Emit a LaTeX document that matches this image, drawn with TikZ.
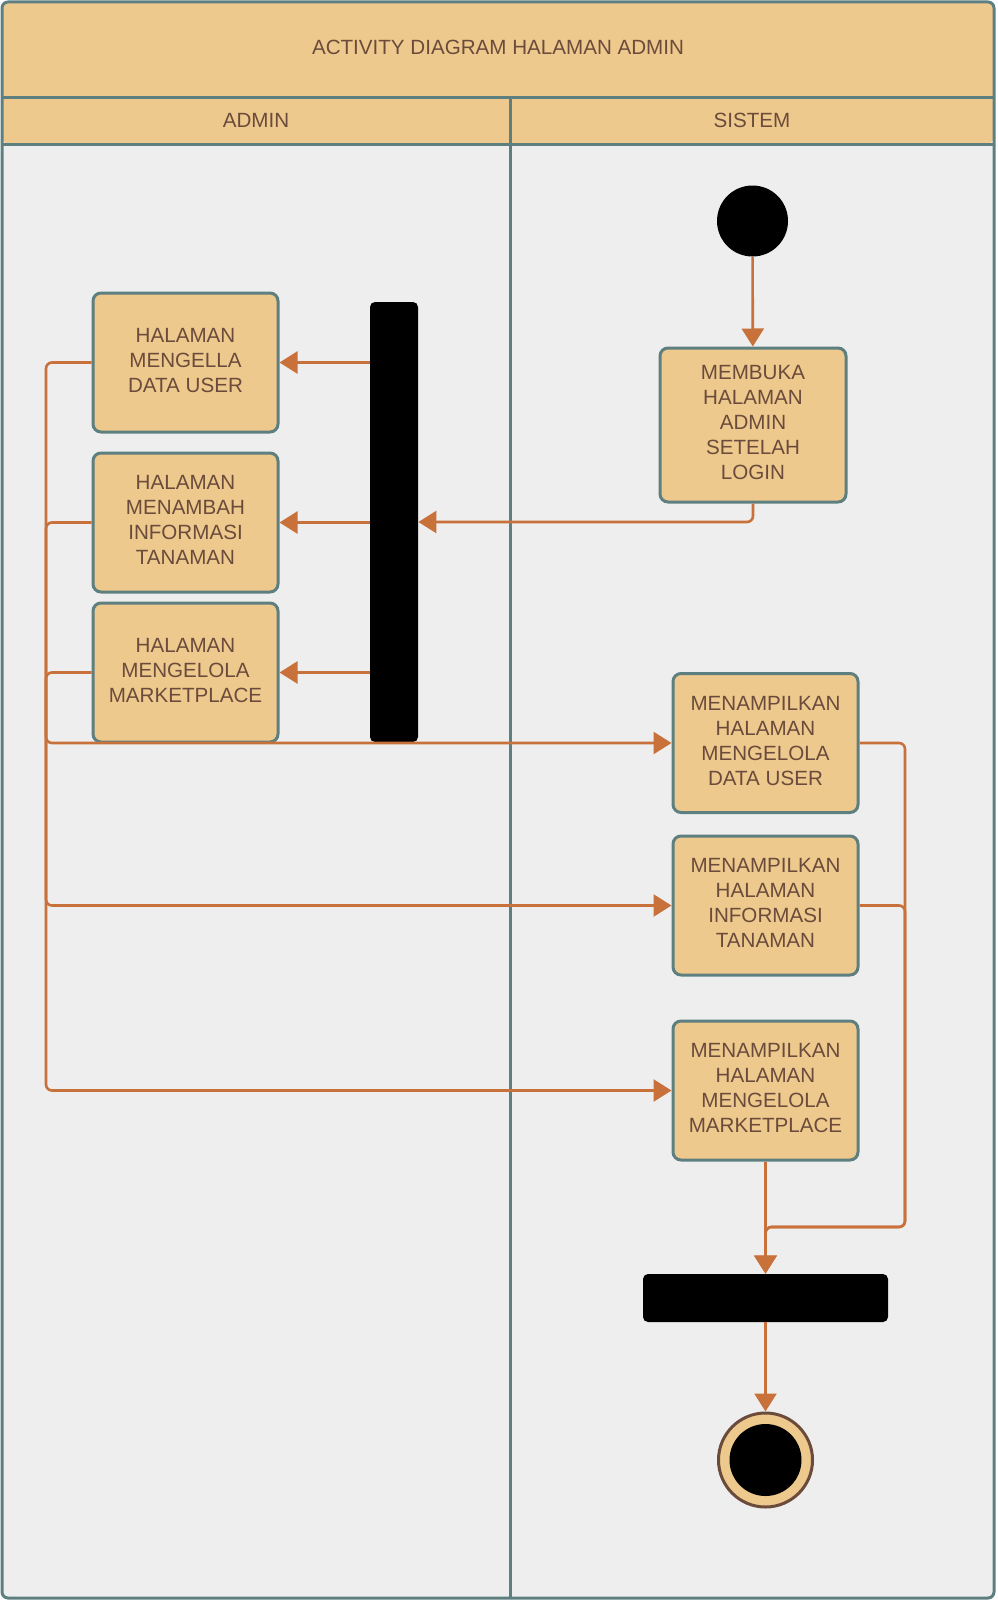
\documentclass[tikz,border=0pt]{standalone}
\usepackage{fontspec}
\setmainfont{Liberation Sans}
\usetikzlibrary{arrows.meta}
\definecolor{lanefill}{HTML}{EEC98D}
\definecolor{poolgray}{HTML}{EEEEEE}
\definecolor{edgegray}{HTML}{5E7F80}
\definecolor{flow}{HTML}{C8713A}
\definecolor{ink}{HTML}{6B4B3B}
\begin{document}
\begin{tikzpicture}[x=0.5pt,y=-0.5pt,
        every node/.style={font=\fontsize{10.3}{12.5}\selectfont,text=ink},
        actbox/.style={draw=edgegray,line width=1.5pt,fill=lanefill,rounded corners=4pt,align=center,inner sep=0pt,
            execute at end node={\rule[-2.5pt]{0pt}{0pt}}},
        barbox/.style={fill=black,rounded corners=2.5pt,inner sep=0pt},
        flowline/.style={draw=flow,line width=1.3pt,rounded corners=3pt},
        flowarrow/.style={flowline,-{Triangle[length=9pt,width=11pt]}}]
        \useasboundingbox (0,0) rectangle (997,1600);

        % pool and lanes
        \fill[poolgray,rounded corners=3pt] (2,2) rectangle (994,1598);
        \fill[lanefill,rounded corners=3pt] (3,3) rectangle (993,144);
        \draw[edgegray,line width=1.5pt] (2,98) -- (994,98);
        \draw[edgegray,line width=1.5pt] (2,144) -- (994,144);
        \draw[edgegray,line width=1.5pt] (510,98) -- (510,1598);
        \draw[edgegray,line width=1.5pt,rounded corners=3pt] (2,2) rectangle (994,1598);
        \node (title) at (498,47.5) {ACTIVITY DIAGRAM HALAMAN ADMIN};
        \node (admin) at (256,120) {ADMIN};
        \node (sistem) at (752,120) {SISTEM};

        % sistem
        \node[circle,fill=black,minimum size=35.5pt,inner sep=0pt] (start) at (752.5,221) {};
        \node[actbox,minimum width=93pt,minimum height=77pt] (buka) at (753,425) {MEMBUKA\\HALAMAN\\ADMIN\\SETELAH\\LOGIN};
        \node[barbox,minimum width=24pt,minimum height=220pt] (fork) at (394,522) {};

        % admin
        \node[actbox,minimum width=92.5pt,minimum height=69.5pt] (huser) at (185.5,362.5) {HALAMAN\\MENGELLA\\DATA USER};
        \node[actbox,minimum width=92.5pt,minimum height=69.5pt] (htanam) at (185.5,522.5) {HALAMAN\\MENAMBAH\\INFORMASI\\TANAMAN};
        \node[actbox,minimum width=92.5pt,minimum height=69.5pt] (hmarket) at (185.5,672.5) {HALAMAN\\MENGELOLA\\MARKETPLACE};

        % tampilan
        \node[actbox,minimum width=92.5pt,minimum height=69.5pt] (tuser) at (765.5,743) {MENAMPILKAN\\HALAMAN\\MENGELOLA\\DATA USER};
        \node[actbox,minimum width=92.5pt,minimum height=69.5pt] (ttanam) at (765.5,905.5) {MENAMPILKAN\\HALAMAN\\INFORMASI\\TANAMAN};
        \node[actbox,minimum width=92.5pt,minimum height=69.5pt] (tmarket) at (765.5,1090.5) {MENAMPILKAN\\HALAMAN\\MENGELOLA\\MARKETPLACE};

        \node[barbox,minimum width=122.5pt,minimum height=24pt] (join) at (765.5,1298) {};
        \node[circle,draw=ink,line width=1.5pt,fill=lanefill,minimum size=47pt,inner sep=0pt] (stop) at (765.5,1460) {};
        \node[circle,fill=black,minimum size=36pt,inner sep=0pt] (stopdot) at (stop) {};

        \coordinate (busL) at (46,0);
        \coordinate (busR) at (905,1227);

        \draw[flowarrow] (start) -- (buka);
        \draw[flowarrow] (buka.south) |- (fork.east);
        \draw[flowarrow] (fork.west |- huser.east) -- (huser.east);
        \draw[flowarrow] (fork.west |- htanam.east) -- (htanam.east);
        \draw[flowarrow] (fork.west |- hmarket.east) -- (hmarket.east);

        \draw[flowarrow] (huser.west) -- (huser.west -| busL) |- (tuser.west);
        \draw[flowarrow] (htanam.west) -- (htanam.west -| busL) |- (ttanam.west);
        \draw[flowarrow] (hmarket.west) -- (hmarket.west -| busL) |- (tmarket.west);

        \draw[flowarrow] (tuser.east) -- (tuser.east -| busR) -- (busR) -| (join.north);
        \draw[flowarrow] (ttanam.east) -- (ttanam.east -| busR) -- (busR) -| (join.north);
        \draw[flowarrow] (tmarket.south) -- (join.north);
        \draw[flowarrow] (join.south) -- (stop.north);
    \end{tikzpicture}
\end{document}
